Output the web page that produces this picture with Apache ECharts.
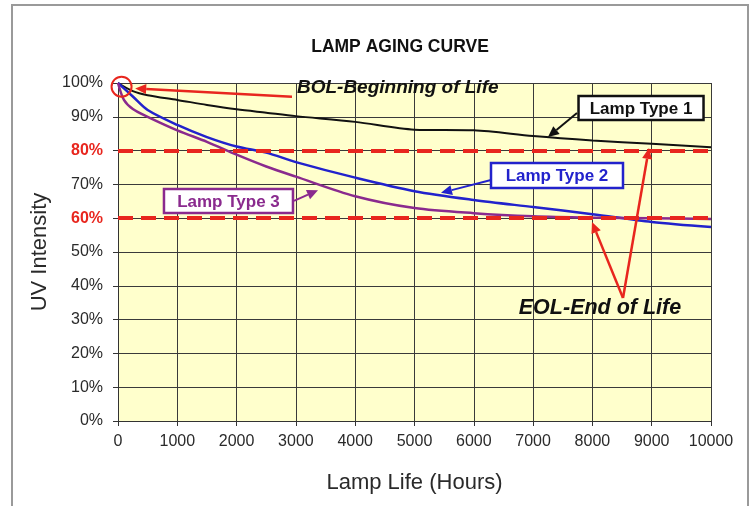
<!DOCTYPE html>
<html><head><meta charset="utf-8">
<script src="https://cdn.jsdelivr.net/npm/echarts@6/dist/echarts.min.js"></script>
<style>html,body{margin:0;padding:0;background:#fff}#c{width:750px;height:506px}</style>
</head><body><div id="c"></div>
<script>
// ---- data ----
const hoursA = [0, 250, 500, 1000, 1500, 2000, 2500, 3000, 4000, 5000, 6000, 7000, 8000, 9000, 10000];
const lampType1 = [100, 97.6, 96.4, 95, 93.5, 92.2, 91.2, 90.2, 88.5, 86.2, 86, 84.3, 83, 82, 81];
const lampType2 = [100, 96, 92, 87.6, 84, 81.2, 79.4, 76.6, 72, 68, 65.4, 63.3, 61.2, 58.9, 57.4];
const hoursB = [0, 100, 250, 500, 1000, 1500, 2000, 2500, 3000, 4000, 5000, 6000, 7000, 8000, 9000, 10000];
const lampType3 = [100, 95, 92.3, 90, 86, 82.6, 78.8, 75.3, 72.3, 66.5, 63, 61.5, 60.6, 60.2, 60, 59.8];
const eolLevels = [80, 60];
const seriesNames = ['Lamp Type 1', 'Lamp Type 2', 'Lamp Type 3'];
const titleText = 'LAMP AGING CURVE';
const xName = 'Lamp Life (Hours)';
const yName = 'UV Intensity';

const FONT = '"Liberation Sans", Arial, sans-serif';
const C1 = '#111111', C2 = '#2222cc', C3 = '#8a2a8e', RED = '#e8261e';

const pairs = (xs, ys) => xs.map((x, i) => [x, ys[i]]);

const chart = echarts.init(document.getElementById('c'), null, {renderer: 'canvas'});
chart.setOption({
  animation: false,
  backgroundColor: '#ffffff',
  textStyle: {fontFamily: FONT},
  grid: {left: 118, right: 39, top: 83, bottom: 85, show: true, backgroundColor: '#FFFFCC', borderWidth: 0},
  xAxis: {
    type: 'value', min: 0, max: 10000, interval: 1000,
    name: xName, nameLocation: 'middle', nameGap: 51,
    nameTextStyle: {fontSize: 22, color: '#2a2a2a', fontFamily: FONT},
    axisLine: {show: true, lineStyle: {color: '#333', width: 1}},
    axisTick: {show: true, length: 5, lineStyle: {color: '#333'}},
    axisLabel: {fontSize: 16, color: '#2a2a2a', margin: 13, fontFamily: FONT, formatter: v => String(v)},
    splitLine: {show: true, lineStyle: {color: '#3a3a3a', width: 1}}
  },
  yAxis: {
    type: 'value', min: 0, max: 100, interval: 10,
    name: yName, nameLocation: 'middle', nameGap: 67, nameRotate: 90,
    nameTextStyle: {fontSize: 22, color: '#2a2a2a', fontFamily: FONT},
    axisLine: {show: true, lineStyle: {color: '#333', width: 1}},
    axisTick: {show: true, length: 5, lineStyle: {color: '#333'}},
    axisLabel: {
      fontSize: 16, color: '#2a2a2a', margin: 15, fontFamily: FONT,
      formatter: v => eolLevels.indexOf(v) >= 0 ? '{r|' + v + '%}' : v + '%',
      rich: {r: {color: RED, fontWeight: 'bold', fontSize: 16, fontFamily: FONT}}
    },
    splitLine: {show: true, lineStyle: {color: '#3a3a3a', width: 1}}
  },
  series: [
    {
      name: 'EOL', type: 'line', data: [], z: 2, silent: true,
      markLine: {
        silent: true, symbol: 'none', label: {show: false},
        lineStyle: {color: RED, width: 4, type: [15, 8]},
        data: eolLevels.map(v => ({yAxis: v}))
      }
    },
    {name: seriesNames[0], type: 'line', data: pairs(hoursA, lampType1), smooth: 0.3, showSymbol: false, z: 3,
     lineStyle: {color: C1, width: 2}},
    {name: seriesNames[1], type: 'line', data: pairs(hoursA, lampType2), smooth: 0.3, showSymbol: false, z: 3,
     lineStyle: {color: C2, width: 2.5}},
    {name: seriesNames[2], type: 'line', data: pairs(hoursB, lampType3), smooth: 0.3, showSymbol: false, z: 3,
     lineStyle: {color: C3, width: 2.5}}
  ]
});

// ---- annotations, placed in data coordinates ----
const px = p => chart.convertToPixel({gridIndex: 0}, p);
function arrow(p0, p1, color, lw) {
  const a = px(p0), b = px(p1);
  const dx = b[0] - a[0], dy = b[1] - a[1], L = Math.hypot(dx, dy), ux = dx / L, uy = dy / L;
  const hl = 11, hw = 5;
  const bx = b[0] - ux * hl, by = b[1] - uy * hl;
  return [
    {type: 'line', z: 100, shape: {x1: a[0], y1: a[1], x2: bx, y2: by}, style: {stroke: color, lineWidth: lw}},
    {type: 'polygon', z: 100, shape: {points: [[b[0], b[1]], [bx - uy * hw, by + ux * hw], [bx + uy * hw, by - ux * hw]]}, style: {fill: color}}
  ];
}
function box(center, w, h, text, color) {
  const c = px(center);
  return [
    {type: 'rect', z: 100, shape: {x: c[0] - w / 2, y: c[1] - h / 2, width: w, height: h}, style: {fill: '#fff', stroke: color, lineWidth: 2.5}},
    {type: 'text', z: 101, x: c[0], y: c[1] + 1, style: {text: text, fill: color, font: 'bold 17px ' + FONT, align: 'center', verticalAlign: 'middle'}}
  ];
}
const bolC = px([60, 98.9]);
const bolT = px([3018, 98.7]);
const eolT = px([8128, 33.4]);
const g = [].concat(
  [{type: 'rect', z: 0, shape: {x: 12, y: 5, width: 736, height: 520}, style: {fill: 'none', stroke: '#9a9a9a', lineWidth: 2}}],
  [{type: 'text', z: 100, x: 400, y: 47, style: {text: titleText, fill: '#111', font: 'bold 17.5px ' + FONT, align: 'center', verticalAlign: 'middle'}}],
  [{type: 'circle', z: 100, shape: {cx: bolC[0], cy: bolC[1], r: 10}, style: {fill: 'none', stroke: RED, lineWidth: 2}}],
  arrow([2934, 95.9], [290, 98.4], RED, 2.5),
  [{type: 'text', z: 100, x: bolT[0], y: bolT[1], style: {text: 'BOL-Beginning of Life', fill: '#111', font: 'italic bold 19px ' + FONT, align: 'left', verticalAlign: 'middle'}}],
  arrow([7740, 91.1], [7251, 84.0], C1, 2),
  box([8820, 92.6], 125, 24, seriesNames[0], C1),
  arrow([6290, 71.3], [5447, 67.5], C2, 2),
  box([7403, 72.6], 132, 25, seriesNames[1], C2),
  arrow([2968, 65.1], [3373, 68.3], C3, 2),
  box([1863, 65.1], 129, 24, seriesNames[2], C3),
  arrow([8516, 36.4], [7993, 58.9], RED, 2.5),
  arrow([8516, 36.4], [8954, 80.8], RED, 2.5),
  [{type: 'text', z: 100, x: eolT[0], y: eolT[1], style: {text: 'EOL-End of Life', fill: '#111', font: 'italic bold 21.5px ' + FONT, align: 'center', verticalAlign: 'middle'}}]
);
chart.setOption({graphic: {elements: g}});
</script>
</body></html>
